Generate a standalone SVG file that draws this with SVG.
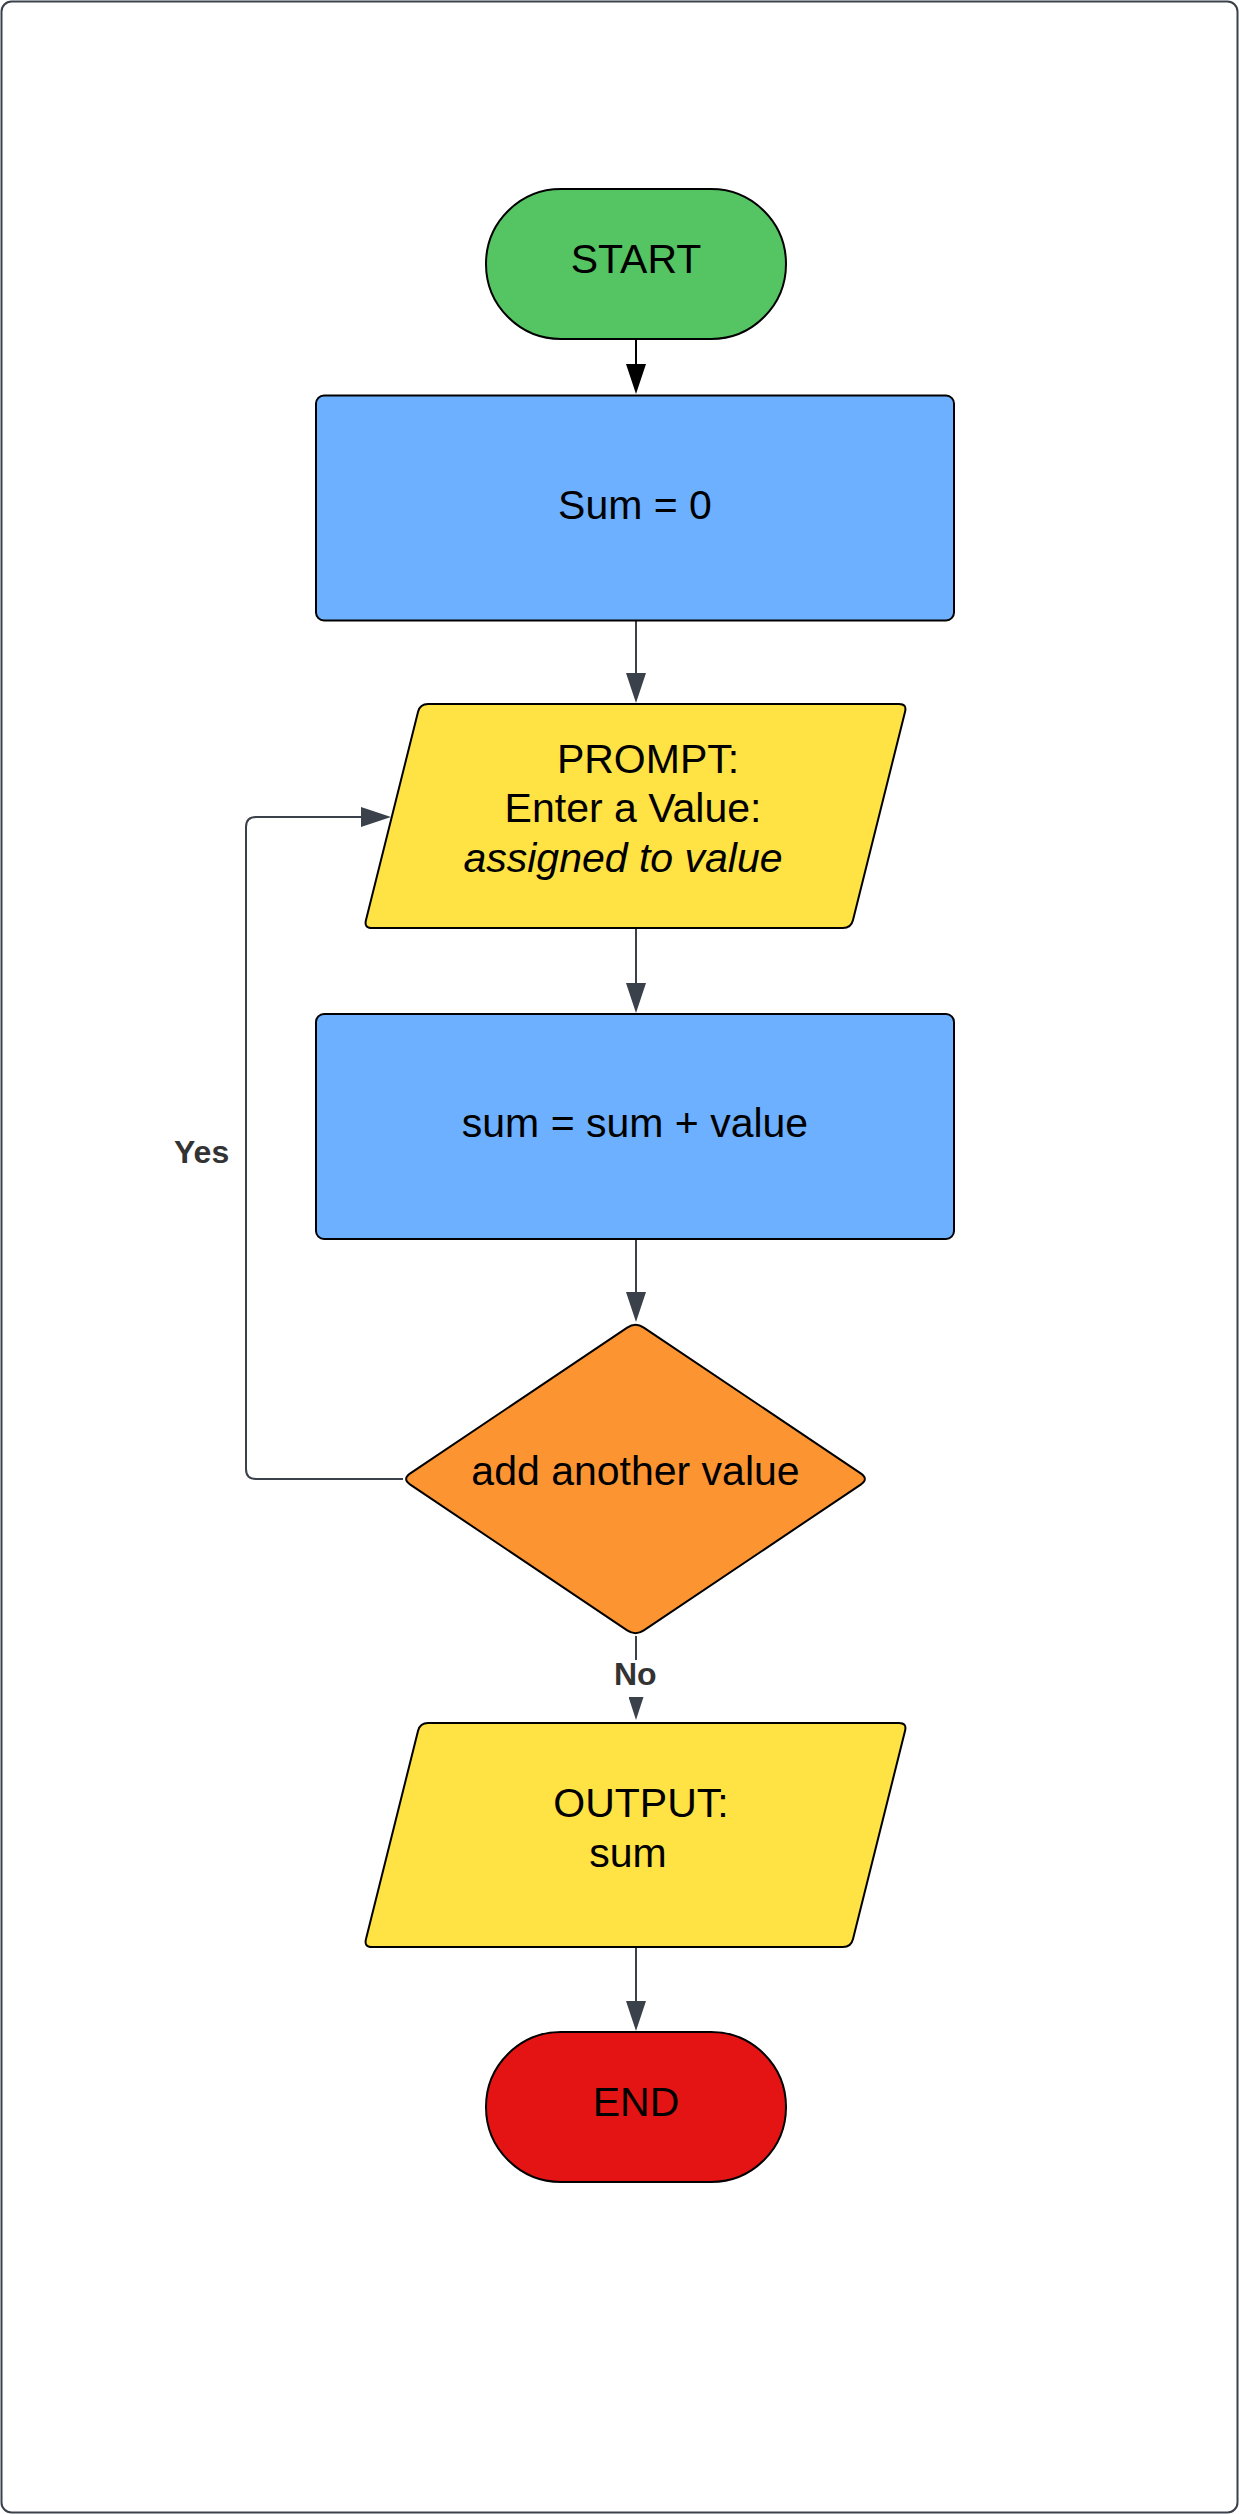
<svg xmlns="http://www.w3.org/2000/svg" width="1239" height="2514" viewBox="0 0 1239 2514">
  <defs>
    <marker id="arrBlack" markerUnits="userSpaceOnUse" markerWidth="30" markerHeight="20" refX="20" refY="10" orient="auto">
      <path d="M0,0 L30,10 L0,20 Z" fill="#000000"/>
    </marker>
    <marker id="arr" markerUnits="userSpaceOnUse" markerWidth="30" markerHeight="20" refX="20" refY="10" orient="auto">
      <path d="M0,0 L30,10 L0,20 Z" fill="#3a414a"/>
    </marker>
    <marker id="arrSmall" markerUnits="userSpaceOnUse" markerWidth="23" markerHeight="15" refX="13" refY="7.5" orient="auto">
      <path d="M0,0 L23,7.5 L0,15 Z" fill="#3a414a"/>
    </marker>
  </defs>
  <style>
    .shape { stroke: #000000; stroke-width: 2; stroke-linejoin: round; }
    .txt { font-family: "Liberation Sans", Arial, sans-serif; fill: #000000; font-size: 41px; }
    .lbl { font-family: "Liberation Sans", Arial, sans-serif; font-weight: bold; fill: #333333; font-size: 32px; }
    .conn { fill: none; stroke: #3a414a; stroke-width: 2; }
  </style>

  <rect x="1.5" y="1.5" width="1236" height="2511" rx="10" ry="10" fill="#ffffff" stroke="#3a414a" stroke-width="2"/>

  <g id="connectors">
    <path d="M636,339 V384" fill="none" stroke="#000000" stroke-width="2" marker-end="url(#arrBlack)"/>
    <path class="conn" d="M636,621 V693" marker-end="url(#arr)"/>
    <path class="conn" d="M636,928 V1003" marker-end="url(#arr)"/>
    <path class="conn" d="M636,1239 V1312" marker-end="url(#arr)"/>
    <path class="conn" d="M403,1479 H256 Q246,1479 246,1469 V827 Q246,817 256,817 H381" marker-end="url(#arr)"/>
    <path class="conn" d="M636,1636 V1710" marker-end="url(#arrSmall)"/>
    <rect x="605" y="1660" width="60" height="37" fill="#ffffff"/>
    <path class="conn" d="M636,1948 V2021" marker-end="url(#arr)"/>
    <text class="lbl" x="174" y="1163">Yes</text>
    <text class="lbl" x="614" y="1685">No</text>
  </g>

  <g id="start">
    <rect class="shape" x="486" y="189" width="300" height="150" rx="75" ry="75" fill="#55c462"/>
    <text class="txt" x="636" y="273" text-anchor="middle">START</text>
  </g>

  <g id="sum-init">
    <rect class="shape" x="316" y="395.5" width="638" height="225" rx="8" ry="8" fill="#6cb0ff"/>
    <text class="txt" x="635" y="519" text-anchor="middle">Sum = 0</text>
  </g>

  <g id="prompt">
    <path class="shape" fill="#ffe243" d="M428,704 H899 Q907,704 905.06,711.76 L852.94,920.24 Q851,928 843,928 H372 Q364,928 365.94,920.24 L418.06,711.76 Q420,704 428,704 Z"/>
    <text class="txt" x="648" y="773" text-anchor="middle">PROMPT:</text>
    <text class="txt" x="633" y="822" text-anchor="middle">Enter a Value:</text>
    <text class="txt" x="623" y="872" text-anchor="middle" font-style="italic">assigned to value</text>
  </g>

  <g id="sum-add">
    <rect class="shape" x="316" y="1014" width="638" height="225" rx="8" ry="8" fill="#6cb0ff"/>
    <text class="txt" x="635" y="1137" text-anchor="middle">sum = sum + value</text>
  </g>

  <g id="decision">
    <path class="shape" fill="#fc9432" d="M627.2,1327.6 Q635.5,1322 643.8,1327.6 L860.7,1473.4 Q869,1479 860.7,1484.6 L643.8,1630.4 Q635.5,1636 627.2,1630.4 L410.3,1484.6 Q402,1479 410.3,1473.4 Z"/>
    <text class="txt" x="635.5" y="1485" text-anchor="middle">add another value</text>
  </g>

  <g id="output">
    <path class="shape" fill="#ffe243" d="M428,1723 H899 Q907,1723 905.06,1730.76 L852.94,1939.24 Q851,1947 843,1947 H372 Q364,1947 365.94,1939.24 L418.06,1730.76 Q420,1723 428,1723 Z"/>
    <text class="txt" x="641" y="1817" text-anchor="middle">OUTPUT:</text>
    <text class="txt" x="628" y="1867" text-anchor="middle">sum</text>
  </g>

  <g id="end">
    <rect class="shape" x="486" y="2032" width="300" height="150" rx="75" ry="75" fill="#e51414"/>
    <text class="txt" x="636" y="2116" text-anchor="middle">END</text>
  </g>
</svg>
